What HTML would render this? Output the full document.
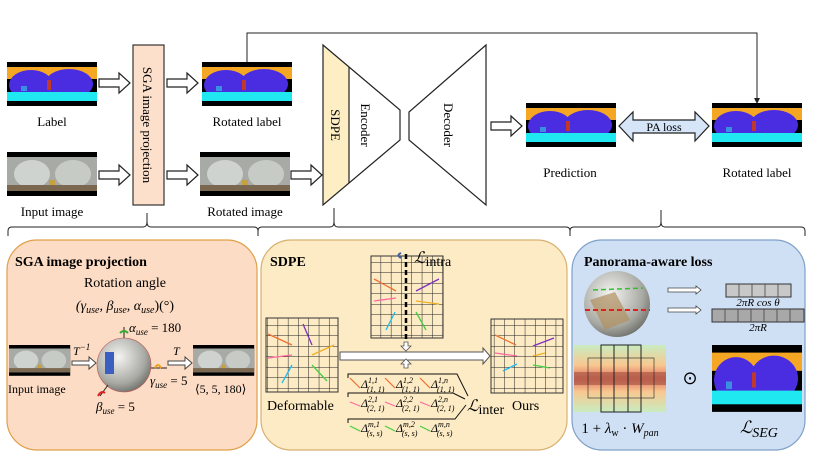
<!DOCTYPE html>
<html><head><meta charset="utf-8"><style>
html,body{margin:0;padding:0;background:#fff;}
svg{display:block;font-family:"Liberation Serif",serif;}
</style></head><body>
<svg width="814" height="467" viewBox="0 0 814 467" xmlns="http://www.w3.org/2000/svg">
<defs>
<g id="seg">
<rect width="90" height="44" fill="#000"/>
<rect x="0" y="5" width="90" height="12" fill="#f5a623"/>
<ellipse cx="24" cy="23" rx="22" ry="15" fill="#4a2de0"/>
<ellipse cx="62" cy="22" rx="24" ry="15" fill="#4a2de0"/>
<rect x="0" y="30" width="90" height="9" fill="#20e8f0"/>
<rect x="40" y="18" width="4" height="10" fill="#c0392b"/>
<rect x="14" y="24" width="6" height="5" fill="#3a8fe0"/>
</g>
<g id="pano">
<rect width="90" height="44" fill="#000"/>
<rect x="0" y="5" width="90" height="34" fill="#a8aaa6"/>
<ellipse cx="25" cy="22" rx="18" ry="14" fill="#cfd3cf"/>
<ellipse cx="66" cy="22" rx="18" ry="14" fill="#c7cbc6"/>
<rect x="0" y="33" width="90" height="6" fill="#7a6850"/>
<rect x="42" y="28" width="6" height="5" fill="#c8a040"/>
</g>
<pattern id="g10" width="10.3" height="10.5" patternUnits="userSpaceOnUse">
<path d="M10.3 0V10.5M0 10.5H10.3" stroke="#222" stroke-width="1" fill="none"/>
</pattern>
<radialGradient id="sph" cx="0.4" cy="0.35" r="0.7">
<stop offset="0" stop-color="#f4f4f2"/><stop offset="0.7" stop-color="#a9a9a4"/><stop offset="1" stop-color="#6d6d68"/>
</radialGradient>
<linearGradient id="heat" x1="0" y1="0" x2="0" y2="1">
<stop offset="0" stop-color="#c8ecc0"/><stop offset="0.3" stop-color="#f8c890"/><stop offset="0.5" stop-color="#e07060"/><stop offset="0.7" stop-color="#f8c890"/><stop offset="1" stop-color="#c8ecc0"/>
</linearGradient>
</defs>

<!-- top row -->
<use href="#seg" x="7" y="62"/>
<use href="#pano" x="7" y="152"/>
<text x="52" y="126" font-size="13" text-anchor="middle">Label</text>
<text x="52" y="216" font-size="13" text-anchor="middle">Input image</text>
<g fill="#fff" stroke="#222" stroke-width="1.2">
<path d="M99 79h20v-6l11 10-11 10v-6h-20z"/>
<path d="M99 171h20v-6l11 10-11 10v-6h-20z"/>
<path d="M167 79h20v-6l11 10-11 10v-6h-20z"/>
<path d="M167 171h20v-6l11 10-11 10v-6h-20z"/>
<path d="M291 171h20v-6l11 10-11 10v-6h-20z"/>
<path d="M491 122h20v-6l11 10-11 10v-6h-20z"/>
</g>
<rect x="133" y="45" width="31" height="160" fill="#fde0cc" stroke="#333" stroke-width="1.2"/>
<text transform="translate(143,125) rotate(90)" font-size="13" text-anchor="middle">SGA image projection</text>
<use href="#seg" x="202" y="62"/>
<use href="#pano" x="200" y="152"/>
<text x="247" y="126" font-size="13" text-anchor="middle">Rotated label</text>
<text x="245" y="216" font-size="13" text-anchor="middle">Rotated image</text>
<!-- encoder -->
<path d="M323 45 L349 67 V183 L323 205 Z" fill="#fdeec4"/>
<path d="M323 45 L400 110 V140 L323 205 Z" fill="none" stroke="#222" stroke-width="1.2"/>
<line x1="349" y1="67" x2="349" y2="183" stroke="#222" stroke-width="1.2"/>
<text transform="translate(331,125) rotate(90)" font-size="13" text-anchor="middle">SDPE</text>
<text transform="translate(361,125) rotate(90)" font-size="13" text-anchor="middle">Encoder</text>
<path d="M409 112 V140 L486 205 V45 Z" fill="none" stroke="#222" stroke-width="1.2"/>
<text transform="translate(444,125) rotate(90)" font-size="13" text-anchor="middle">Decoder</text>
<!-- feedback -->
<path d="M247 62 V33 H757 V100" fill="none" stroke="#222" stroke-width="1"/>
<path d="M754 98 L757 104 L760 98 Z" fill="#222"/>
<use href="#seg" x="526" y="103"/>
<use href="#seg" x="712" y="103"/>
<path d="M619 126 L633 112 V120 H695 V112 L709 126 L695 141 V133 H633 V141 Z" fill="#d6e6f8" stroke="#222" stroke-width="1.2"/>
<text x="664" y="131" font-size="12" text-anchor="middle">PA loss</text>
<text x="570" y="177" font-size="13" text-anchor="middle">Prediction</text>
<text x="757" y="177" font-size="13" text-anchor="middle">Rotated label</text>
<!-- braces -->
<g fill="none" stroke="#222" stroke-width="1">
<path d="M8 236 V231 Q8 227 12 227 H143 Q147 227 147 222 V213 M147 222 Q147 227 151 227 H254 Q258 227 258 231 V236"/>
<path d="M258 236 V231 Q258 227 262 227 H330 Q334 227 334 222 V208 M334 222 Q334 227 338 227 H566 Q570 227 570 231 V236"/>
<path d="M570 236 V231 Q570 227 574 227 H657 Q661 227 661 222 V210 M661 222 Q661 227 665 227 H801 Q805 227 805 231 V236"/>
</g>

<!-- panels -->
<rect x="7" y="240" width="250" height="210" rx="30" fill="#fcdcc4" stroke="#e0a048" stroke-width="1.2"/>
<rect x="261" y="240" width="306" height="210" rx="30" fill="#fcebc4" stroke="#d8b070" stroke-width="1.2"/>
<rect x="572" y="240" width="233" height="210" rx="30" fill="#cfe0f4" stroke="#7fa0c8" stroke-width="1.2"/>

<!-- panel 1 -->
<text x="15" y="266" font-size="14" font-weight="bold">SGA image projection</text>
<text x="125" y="287" font-size="14" text-anchor="middle">Rotation angle</text>
<text x="125" y="310" font-size="14" text-anchor="middle" font-style="italic">(γ<tspan font-size="10" dy="3">use</tspan><tspan dy="-3">, β</tspan><tspan font-size="10" dy="3">use</tspan><tspan dy="-3">, α</tspan><tspan font-size="10" dy="3">use</tspan><tspan dy="-3" font-style="normal">)(°)</tspan></text>
<text x="129" y="332" font-size="13" font-style="italic">α<tspan font-size="9" dy="3">use</tspan><tspan dy="-3" font-style="normal"> = 180</tspan></text>
<use href="#pano" transform="translate(9,345) scale(0.68,0.7)"/>
<use href="#pano" transform="translate(193,345) scale(0.68,0.7)"/>
<text x="8" y="393" font-size="12">Input image</text>
<text x="195" y="393" font-size="12">⟨5, 5, 180⟩</text>
<g fill="#fff" stroke="#444" stroke-width="1">
<path d="M72 361h17v-4l7 6-7 6v-4h-17z"/>
<path d="M168 361h17v-4l7 6-7 6v-4h-17z"/>
</g>
<text x="73" y="355" font-size="12" font-style="italic">T<tspan font-size="9" dy="-5">−1</tspan></text>
<text x="173" y="355" font-size="12" font-style="italic">T</text>
<circle cx="124" cy="365" r="27" fill="url(#sph)" stroke="#b55" stroke-width="0.6"/>
<rect x="105" y="352" width="9" height="22" fill="#3a5fc0"/>
<line x1="124" y1="338" x2="124" y2="327" stroke="#222"/>
<path d="M120 333 q4 -4 8 0" stroke="#3a3" stroke-width="2" fill="none"/>
<line x1="151" y1="368" x2="167" y2="368" stroke="#222"/>
<path d="M155 368 q3 -6 6 0" stroke="#f0a020" stroke-width="2" fill="none"/>
<line x1="108" y1="385" x2="100" y2="396" stroke="#222"/>
<path d="M98 396 q3 -6 7 -3" stroke="#e02020" stroke-width="2" fill="none"/>
<text x="150" y="385" font-size="13" font-style="italic">γ<tspan font-size="9" dy="3">use</tspan><tspan dy="-3" font-style="normal"> = 5</tspan></text>
<text x="96" y="411" font-size="13" font-style="italic">β<tspan font-size="9" dy="3">use</tspan><tspan dy="-3" font-style="normal"> = 5</tspan></text>

<!-- panel 2 -->
<text x="270" y="266" font-size="14" font-weight="bold">SDPE</text>
<rect x="266" y="318" width="72" height="74" fill="url(#g10)" stroke="#333"/>
<rect x="371" y="256" width="72" height="82" fill="url(#g10)" stroke="#333"/>
<rect x="491" y="319" width="72" height="74" fill="url(#g10)" stroke="#333"/>
<line x1="406" y1="254" x2="406" y2="345" stroke="#000" stroke-width="2.5" stroke-dasharray="5,3"/>
<path d="M401 258 q-5 -3 0 -5" stroke="#3a5fa0" stroke-width="2" fill="none"/>
<text x="414" y="263" font-size="16" font-style="italic">ℒ<tspan font-style="normal" font-size="14" dy="3">intra</tspan></text>
<path d="M340 352 H483 V348 L490 356 L483 364 V360 H340 Z" fill="#fff" stroke="#555"/>
<path d="M404 342 h4 v4 h3 l-5 5 -5 -5 h3z M404 368 h4 v-4 h3 l-5 -5 -5 5 h3z" fill="#fff" stroke="#555" stroke-width="0.8"/>
<g stroke-width="1.3">
<g stroke="#f07030"><line x1="268" y1="334" x2="292" y2="345"/><line x1="374" y1="279" x2="396" y2="291"/><line x1="495" y1="335" x2="516" y2="345"/></g>
<g stroke="#ff6aa0"><line x1="268" y1="358" x2="292" y2="355"/><line x1="374" y1="301" x2="396" y2="298"/><line x1="495" y1="353" x2="517" y2="356"/></g>
<g stroke="#20b8f0"><line x1="282" y1="383" x2="292" y2="365"/><line x1="386" y1="330" x2="395" y2="312"/><line x1="503" y1="371" x2="517" y2="364"/></g>
<g stroke="#8030c0"><line x1="303" y1="324" x2="312" y2="345"/><line x1="416" y1="291" x2="439" y2="279"/><line x1="533" y1="346" x2="554" y2="338"/></g>
<g stroke="#f0b020"><line x1="312" y1="355" x2="334" y2="345"/><line x1="416" y1="301" x2="439" y2="304"/><line x1="533" y1="356" x2="545" y2="353"/></g>
<g stroke="#40d040"><line x1="312" y1="365" x2="327" y2="381"/><line x1="416" y1="312" x2="426" y2="330"/><line x1="533" y1="365" x2="550" y2="368"/></g>
</g>
<text x="267" y="410" font-size="14">Deformable</text>
<text x="512" y="410" font-size="14">Ours</text>
<g fill="none" stroke="#111" stroke-width="1">
<path d="M348 378 V374 H457 L468 396"/>
<path d="M348 397 V393 H453 L465 399"/>
<path d="M348 423 V419 H455 L466 405"/>
</g>
<g font-size="12" font-style="italic">
<text x="361" y="388">Δ<tspan font-size="8" dy="-5">1,1</tspan><tspan font-size="8" dx="-11" dy="9">(1, 1)</tspan></text>
<text x="396" y="388">Δ<tspan font-size="8" dy="-5">1,2</tspan><tspan font-size="8" dx="-11" dy="9">(1, 1)</tspan></text>
<text x="431" y="388">Δ<tspan font-size="8" dy="-5">1,n</tspan><tspan font-size="8" dx="-11" dy="9">(1, 1)</tspan></text>
<text x="361" y="407">Δ<tspan font-size="8" dy="-5">2,1</tspan><tspan font-size="8" dx="-11" dy="9">(2, 1)</tspan></text>
<text x="396" y="407">Δ<tspan font-size="8" dy="-5">2,2</tspan><tspan font-size="8" dx="-11" dy="9">(2, 1)</tspan></text>
<text x="431" y="407">Δ<tspan font-size="8" dy="-5">2,n</tspan><tspan font-size="8" dx="-11" dy="9">(2, 1)</tspan></text>
<text x="361" y="432">Δ<tspan font-size="8" dy="-5">m,1</tspan><tspan font-size="8" dx="-13" dy="9">(s, s)</tspan></text>
<text x="396" y="432">Δ<tspan font-size="8" dy="-5">m,2</tspan><tspan font-size="8" dx="-13" dy="9">(s, s)</tspan></text>
<text x="431" y="432">Δ<tspan font-size="8" dy="-5">m,n</tspan><tspan font-size="8" dx="-13" dy="9">(s, s)</tspan></text>
</g>
<g stroke-width="1.2">
<g stroke="#f07030"><line x1="350" y1="378" x2="360" y2="388"/><line x1="385" y1="378" x2="395" y2="388"/><line x1="420" y1="378" x2="430" y2="388"/></g>
<g stroke="#ff6aa0"><line x1="350" y1="402" x2="360" y2="406"/><line x1="385" y1="402" x2="395" y2="406"/><line x1="420" y1="402" x2="430" y2="406"/></g>
<g stroke="#40d040"><line x1="350" y1="426" x2="360" y2="431"/><line x1="385" y1="426" x2="395" y2="431"/><line x1="420" y1="426" x2="430" y2="431"/></g>
</g>
<text x="467" y="411" font-size="16" font-style="italic">ℒ<tspan font-style="normal" font-size="14" dy="3">inter</tspan></text>

<!-- panel 3 -->
<text x="584" y="266" font-size="14" font-weight="bold">Panorama-aware loss</text>
<circle cx="617" cy="304" r="33" fill="url(#sph)"/>
<path d="M590 300 L615 292 L630 320 L605 330 Z" fill="#b09060" opacity="0.7"/>
<line x1="593" y1="290" x2="643" y2="288" stroke="#30c030" stroke-width="1.5" stroke-dasharray="5,3"/>
<line x1="585" y1="310" x2="650" y2="310" stroke="#e02020" stroke-width="2" stroke-dasharray="5,3"/>
<g fill="#fff" stroke="#444" stroke-width="0.8">
<path d="M668 288h28v-2l5 4-5 4v-2h-28z"/>
<path d="M668 308h28v-2l5 4-5 4v-2h-28z"/>
</g>
<rect x="726" y="284" width="65" height="13" fill="#c8c8c8" stroke="#333"/>
<g stroke="#444" stroke-width="0.8"><line x1="739" y1="284" x2="739" y2="297"/><line x1="752" y1="284" x2="752" y2="297"/><line x1="765" y1="284" x2="765" y2="297"/><line x1="778" y1="284" x2="778" y2="297"/></g>
<text x="758" y="306" font-size="11" font-style="italic" text-anchor="middle">2πR cos θ</text>
<rect x="712" y="309" width="92" height="13" fill="#a8a8a8" stroke="#333"/>
<g stroke="#444" stroke-width="0.8"><line x1="725" y1="309" x2="725" y2="322"/><line x1="738" y1="309" x2="738" y2="322"/><line x1="751" y1="309" x2="751" y2="322"/><line x1="764" y1="309" x2="764" y2="322"/><line x1="777" y1="309" x2="777" y2="322"/><line x1="790" y1="309" x2="790" y2="322"/></g>
<text x="758" y="331" font-size="11" font-style="italic" text-anchor="middle">2πR</text>
<rect x="574" y="345" width="92" height="67" fill="url(#heat)"/>
<rect x="574" y="372" width="92" height="13" fill="#a05040" opacity="0.6"/>
<g fill="none" stroke="#222" stroke-width="1"><rect x="601" y="345" width="40" height="67"/><line x1="614" y1="345" x2="614" y2="412"/><line x1="628" y1="345" x2="628" y2="412"/><rect x="588" y="358" width="66" height="40" stroke-width="0.6"/></g>
<text x="690" y="384" font-size="18" text-anchor="middle">⊙</text>
<use href="#seg" transform="translate(712,345) scale(1,1.52)"/>
<text x="620" y="433" font-size="15"><tspan text-anchor="middle" x="620">1 + <tspan font-style="italic">λ</tspan><tspan font-size="10" dy="3">w</tspan><tspan dy="-3"> · </tspan><tspan font-style="italic">W</tspan><tspan font-size="10" font-style="italic" dy="3">pan</tspan></tspan></text>
<text x="740" y="433" font-size="17" font-style="italic">ℒ<tspan font-size="14" dy="4">SEG</tspan></text>
</svg>
</body></html>
